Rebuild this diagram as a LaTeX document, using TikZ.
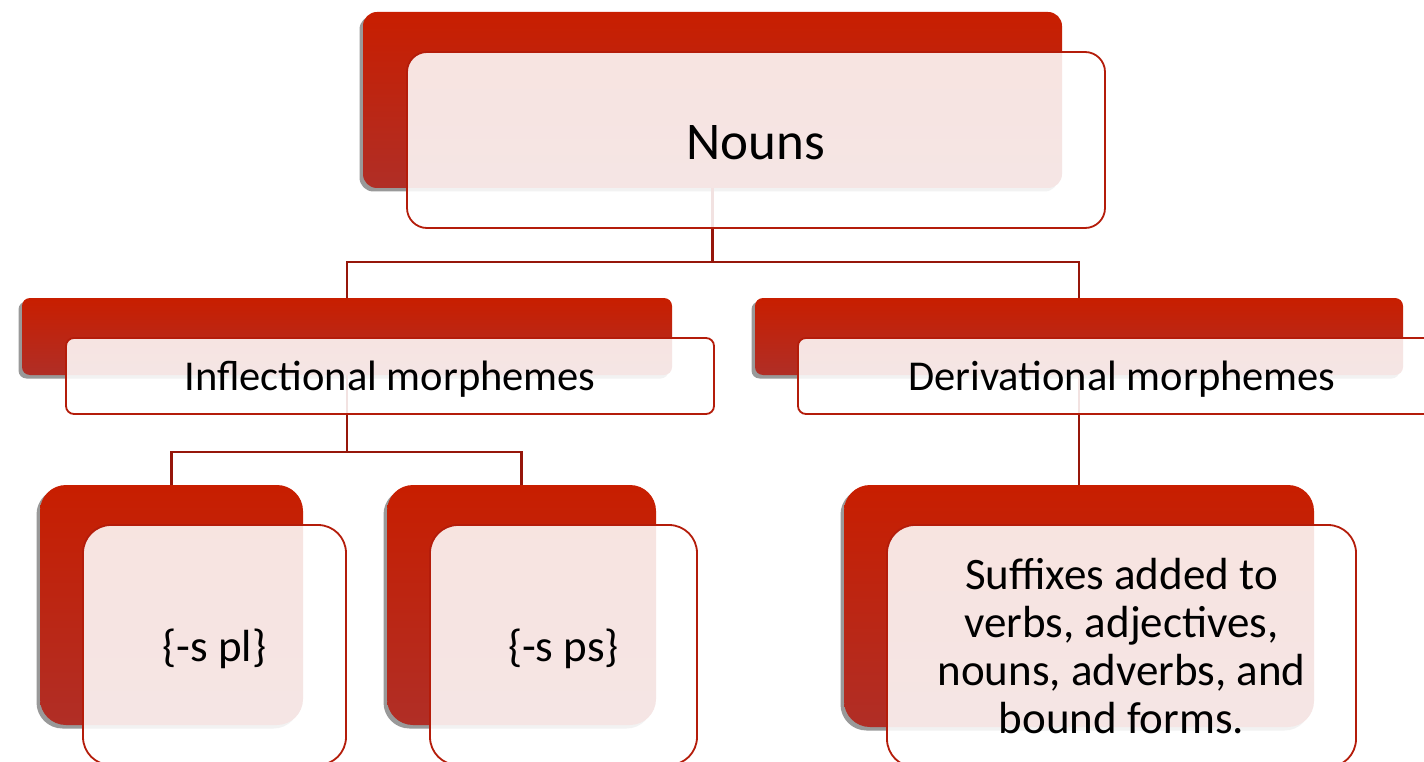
\documentclass[tikz,border=0pt]{standalone}
\usepackage{fontspec}
\setmainfont{Carlito}
\usetikzlibrary{shadows}
\definecolor{cardtop}{RGB}{200,30,0}
\definecolor{cardbot}{RGB}{176,46,38}
\definecolor{cardline}{RGB}{180,28,10}
\definecolor{linkred}{RGB}{150,22,10}
\tikzset{backcard/.style={rounded corners=#1, top color=cardtop, bottom color=cardbot,
    draw=none, inner sep=0pt,
    drop shadow={opacity=0.8, shadow xshift=-3.5pt, shadow yshift=-3.5pt}},
  backcard/.default=10pt,
  frontcard/.style={rounded corners=#1, draw=cardline, line width=1.8pt, fill=white,
    fill opacity=0.88, text opacity=1, inner sep=0pt, align=center, text depth=0pt,
    font=\fontsize{42.5}{48}\selectfont},
  frontcard/.default=10pt,
  link/.style={linkred, line width=2.2pt}}

\begin{document}
\begin{tikzpicture}[x=1pt,y=-1pt]
      \useasboundingbox (0,0) rectangle (1424,762);
      \fill [white] (0,0) rectangle (1424,762);
      \clip (0,0) rectangle (1424,762);

      % back cards
      \node [backcard=14pt, minimum width=699pt, minimum height=176pt] (nounsback) at (712.5,100) {};
      \node [backcard=8pt, minimum width=650pt, minimum height=77pt] (inflback) at (347,336.5) {};
      \node [backcard=8pt, minimum width=648pt, minimum height=77pt] (derivback) at (1079,336.5) {};
      \node [backcard=26pt, minimum width=263pt, minimum height=240pt] (plback) at (171.5,605) {};
      \node [backcard=26pt, minimum width=269pt, minimum height=240pt] (psback) at (521.5,605) {};
      \node [backcard=26pt, minimum width=470pt, minimum height=242pt] (sufback) at (1079,606) {};

      % connectors
      \draw [link] (nounsback.south) -- ++(0,74) -| (inflback.north);
      \draw [link] (nounsback.south) -- ++(0,74) -| (derivback.north);
      \draw [link] (inflback.south) -- ++(0,77) -| (plback.north);
      \draw [link] (inflback.south) -- ++(0,77) -| (psback.north);
      \draw [link] (derivback.south) -- (sufback.north);

      % front cards
      \node [frontcard=20pt, minimum width=698pt, minimum height=176pt,
        font=\fontsize{53}{60}\selectfont] (nouns) at (756,140) {\raisebox{-4pt}{Nouns}};
      \node [frontcard=8pt, minimum width=648pt, minimum height=76pt] (infl) at (390,376) {Inflectional morphemes};
      \node [frontcard=8pt, minimum width=648pt, minimum height=76pt] (deriv) at (1122,376) {Derivational morphemes};
      \node [frontcard=28pt, minimum width=263pt, minimum height=240pt,
        font=\fontsize{45}{48}\selectfont] (pl) at (214.5,645) {\{-s pl\}};
      \node [frontcard=28pt, minimum width=267pt, minimum height=240pt,
        font=\fontsize{45}{48}\selectfont] (ps) at (563.5,645) {\{-s ps\}};
      \node [frontcard=28pt, minimum width=469pt, minimum height=242pt,
        font=\fontsize{45}{48}\selectfont] (suf) at (1121.5,646)
        {Suffixes added to\\verbs, adjectives,\\nouns, adverbs, and\\bound forms.};
    \end{tikzpicture}
\end{document}
